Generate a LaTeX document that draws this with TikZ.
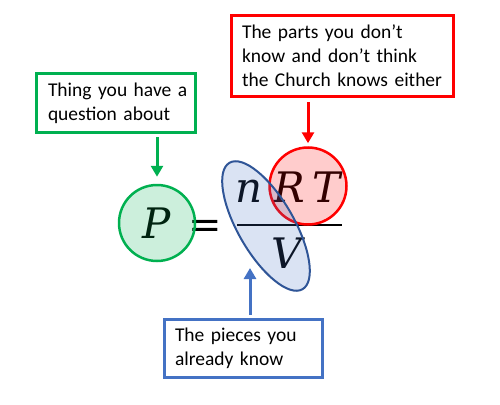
\documentclass[tikz,border=0pt]{standalone}
\usepackage{fontspec}
\setmainfont{Carlito}
\newfontfamily\eqfont{DejaVu Serif}
\usetikzlibrary{shapes.geometric,arrows.meta}
\hyphenpenalty=10000
\hbadness=10000
\hfuzz=100pt
\definecolor{cgreen}{HTML}{00B050}
\definecolor{cred}{HTML}{FF0000}
\definecolor{cblue}{HTML}{4472C4}
\definecolor{cdblue}{HTML}{2F5597}
\tikzset{
  labelbox/.style={draw, line width=3pt, align=left, inner sep=0pt, text=black,
    font=\fontsize{19.5}{24}\selectfont, anchor=center},
  eqtext/.style={inner sep=0pt, anchor=base, font=\eqfont\itshape\fontsize{42}{42}\selectfont},
  conn/.style={line width=3pt, -{Triangle[width=12pt,length=11pt]}},
  hilite/.style={fill opacity=0.2, draw opacity=1, line width=2.5pt}
}
\begin{document}
\begin{tikzpicture}[x=1pt,y=-1pt]
\useasboundingbox (0,0) rectangle (500,404);
% boxes
\node[labelbox, draw=cred, text width=201pt, minimum width=222pt, minimum height=81pt] (rbox) at (342.5,56)
  {\mbox{The parts you don’t}\\\mbox{know and don’t think}\\\mbox{the Church knows either}};
\node[labelbox, draw=cgreen, text width=136pt, minimum width=159pt, minimum height=59pt] (gbox) at (116,103)
  {\mbox{Thing you have a}\\\mbox{question about}};
\node[labelbox, draw=cblue, text width=137pt, minimum width=158pt, minimum height=58pt] (bbox) at (243.5,348.5)
  {\mbox{The pieces you}\\\mbox{already know}};
% equation text
\node[eqtext] (P) at (157,238) {P};
\node[eqtext, font=\eqfont\fontsize{40}{40}\selectfont] (eq) at (205,238) {=};
\node[eqtext] (n) at (249,202) {n};
\node[eqtext] (R) at (289,202) {R};
\node[eqtext] (T) at (327,202) {T};
\node[eqtext] (V) at (287,268) {V};
\draw[line width=2.5pt] (237,225) -- (342,225);
% highlight shapes
\node[hilite, draw=cgreen, fill=cgreen, circle, minimum size=76pt, inner sep=0pt] (gc) at (157,223) {};
\node[hilite, draw=cred, fill=cred, circle, minimum size=77pt, inner sep=0pt] (rc) at (308,186) {};
\node[hilite, draw=cdblue, fill=cblue, ellipse, line width=2pt, minimum width=146pt, minimum height=56pt, inner sep=0pt, rotate=-60] (be) at (266,226) {};
% connectors
\coordinate (btip) at (250,268);
\draw[conn, cred, shorten <=4pt, shorten >=3pt] (rbox.south -| rc.north) -- (rc.north);
\draw[conn, cgreen, shorten <=3pt, shorten >=7pt] (gbox.south -| gc.north) -- (gc.north);
\draw[conn, cblue, shorten <=3pt] (bbox.north -| btip) -- (btip);
\end{tikzpicture}
\end{document}
